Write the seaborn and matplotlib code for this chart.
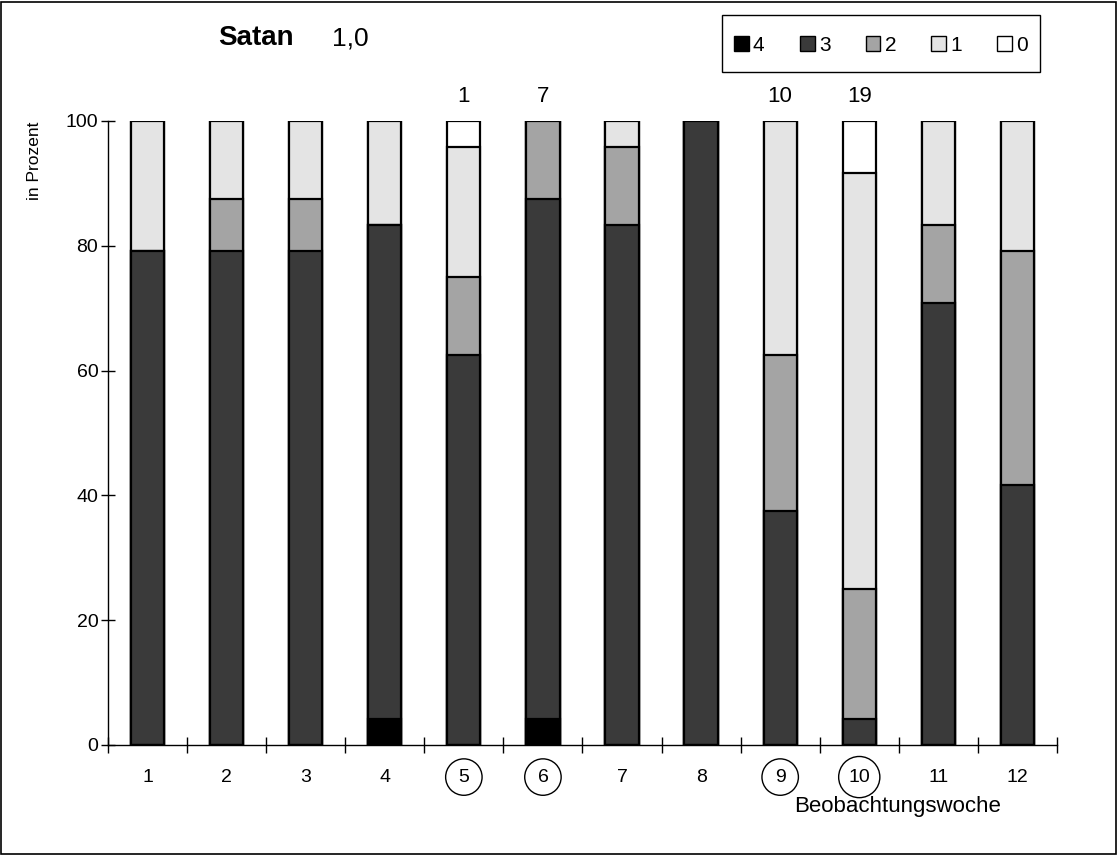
import matplotlib
matplotlib.use('Agg')
import matplotlib.pyplot as plt
from matplotlib.patches import Rectangle, Patch
import numpy as np
import pandas as pd
import seaborn as sns

# data: percent per rating level (4..0) for each observation week
weeks = ['1', '2', '3', '4', '5', '6', '7', '8', '9', '10', '11', '12']
lvl4 = [0, 0, 0, 4.2, 0, 4.2, 0, 0, 0, 0, 0, 0]
lvl3 = [79.2, 79.2, 79.2, 79.1, 62.5, 83.3, 83.3, 100, 37.5, 4.2, 70.8, 41.7]
lvl2 = [0, 8.3, 8.3, 0, 12.5, 12.5, 12.5, 0, 25.0, 20.8, 12.5, 37.5]
lvl1 = [20.8, 12.5, 12.5, 16.7, 20.8, 0, 4.2, 0, 37.5, 66.7, 16.7, 20.8]
lvl0 = [0, 0, 0, 0, 4.2, 0, 0, 0, 0, 8.3, 0, 0]
levels = ['4', '3', '2', '1', '0']
colors = ['#000000', '#3a3a3a', '#a4a4a4', '#e4e4e4', '#ffffff']
counts = {'5': '1', '6': '7', '9': '10', '10': '19'}

sns.set_theme(style='white')
plt.rcParams['font.family'] = ['Liberation Sans', 'DejaVu Sans']
plt.rcParams['text.color'] = 'black'
plt.rcParams['xtick.color'] = 'black'
plt.rcParams['ytick.color'] = 'black'

fig = plt.figure(figsize=(11.18, 8.55), dpi=100)
ax = fig.add_axes([0.0966, 0.1287, 0.8488, 0.7298])

df = pd.DataFrame({'woche': weeks, '4': lvl4, '3': lvl3, '2': lvl2, '1': lvl1, '0': lvl0})
cum = df[levels].cumsum(axis=1)

# draw tallest cumulative bar first, smaller ones on top
for lv, col in zip(reversed(levels), reversed(colors)):
    sns.barplot(x=df['woche'], y=cum[lv], color=col, width=0.42,
                edgecolor='black', linewidth=1.6, saturation=1, ax=ax)

ax.set_xlim(-0.5, 11.5)
ax.set_ylim(0, 100)
ax.set_yticks([0, 20, 40, 60, 80, 100])
ax.tick_params(axis='y', direction='inout', length=10, width=1,
               labelsize=14, left=True, pad=2)
ax.tick_params(axis='x', which='major', length=0, labelsize=14, pad=17)
ax.set_xticks(np.arange(-0.5, 12, 1), minor=True)
ax.tick_params(axis='x', which='minor', direction='inout', length=12, width=1,
               bottom=True)
for s in ['top', 'right']:
    ax.spines[s].set_visible(False)
for s in ['left', 'bottom']:
    ax.spines[s].set_color('black')
    ax.spines[s].set_linewidth(1)

ax.set_xlabel('')
ax.set_ylabel('')
for lbl in ax.get_xticklabels():
    if lbl.get_text() in counts:
        lbl.set_bbox(dict(boxstyle='circle,pad=0.5', fc='none', ec='black', lw=1))

for i, w in enumerate(weeks):
    if w in counts:
        ax.text(i, 104, counts[w], ha='center', va='center', fontsize=16, clip_on=False)

fig.text(0.031, 0.812, 'in Prozent', rotation=90, ha='center', va='center', fontsize=12.5)
fig.text(0.803, 0.057, 'Beobachtungswoche', ha='center', va='center', fontsize=16)
fig.text(0.195, 0.955, 'Satan', ha='left', va='center', fontsize=20, fontweight='bold')
fig.text(0.297, 0.955, '1,0', ha='left', va='center', fontsize=19)

# legend box
fig.patches.append(Rectangle((0.646, 0.916), 0.284, 0.067, transform=fig.transFigure,
                             fill=False, ec='black', lw=1))
handles = [Patch(facecolor=c, edgecolor='black', lw=1) for c in colors]
fig.legend(handles, levels, loc='center', bbox_to_anchor=(0.788, 0.947), ncol=5,
           frameon=False, fontsize=15, handlelength=0.7, handleheight=0.7,
           handletextpad=0.2, columnspacing=1.7)

# frame round the whole figure
fig.patches.append(Rectangle((0.001, 0.001), 0.997, 0.997, transform=fig.transFigure,
                             fill=False, ec='black', lw=1.2))

fig.savefig('out.png', dpi=100)
